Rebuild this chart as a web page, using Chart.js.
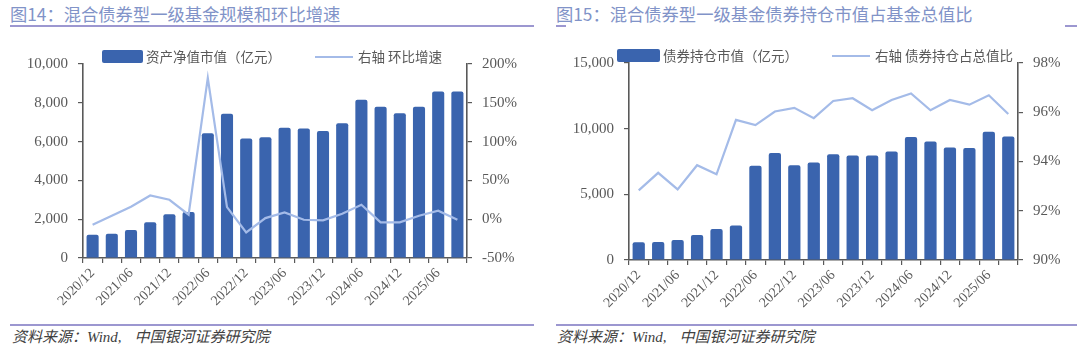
<!DOCTYPE html>
<html>
<head>
<meta charset="utf-8">
<script src="https://cdn.jsdelivr.net/npm/chart.js@4/dist/chart.umd.min.js"></script>
<style>
  html, body { margin: 0; padding: 0; background: #ffffff; }
  #wrap { position: relative; width: 1080px; height: 351px; overflow: hidden; background: #fff; }
  .abs { position: absolute; }
  .title { font-family: "Noto Sans CJK SC", "Noto Sans", sans-serif; font-size: 17.3px; line-height: 22px; color: #8193C8; white-space: nowrap; }
  .rule { background: #9C97D0; }
  .legtxt { font-family: "Noto Sans CJK SC", "Noto Sans", sans-serif; font-size: 13.5px; line-height: 18px; color: #595959; white-space: nowrap; }
  .src { font-family: "Liberation Serif", "Noto Sans CJK SC", serif; font-style: italic; font-size: 15px; line-height: 18px; color: #404040; white-space: nowrap; }
  .src .cjk { font-family: "Noto Sans CJK SC", sans-serif; }
  .src .gap { margin-left: 13px; }
</style>
</head>
<body>
<div id="wrap">
  <div class="abs title" style="left:10px; top:3px;">图14：混合债券型一级基金规模和环比增速</div>
  <div class="abs rule" style="left:10px; top:25px; width:524px; height:2px;"></div>
  <div class="abs title" style="left:556px; top:3px;">图15：混合债券型一级基金债券持仓市值占基金总值比</div>
  <div class="abs rule" style="left:556px; top:25px; width:10px; height:2px;"></div>
  <div class="abs rule" style="left:1065px; top:25px; width:12px; height:2px;"></div>

  <div class="abs" style="left:0; top:40px; width:540px; height:282px;"><canvas id="c1" width="540" height="282"></canvas></div>
  <div class="abs" style="left:540px; top:40px; width:540px; height:282px;"><canvas id="c2" width="540" height="282"></canvas></div>

  <!-- legends -->
  <div class="abs" style="left:102px; top:50px; width:41px; height:13px; background:#3A64AE; border-radius:2px;"></div>
  <div class="abs legtxt" style="left:146px; top:47px;">资产净值市值（亿元）</div>
  <div class="abs" style="left:315px; top:56px; width:38px; height:2px; background:#A4BBE8;"></div>
  <div class="abs legtxt" style="left:358px; top:47px;">右轴 环比增速</div>

  <div class="abs" style="left:617px; top:49px; width:43px; height:13px; background:#3A64AE; border-radius:2px;"></div>
  <div class="abs legtxt" style="left:663px; top:46px;">债券持仓市值（亿元）</div>
  <div class="abs" style="left:832px; top:55px; width:38px; height:2px; background:#A4BBE8;"></div>
  <div class="abs legtxt" style="left:875px; top:46px;">右轴 债券持仓占总值比</div>

  <div class="abs rule" style="left:10px; top:324px; width:524px; height:2px;"></div>
  <div class="abs rule" style="left:556px; top:324px; width:521px; height:2px;"></div>
  <div class="abs src" style="left:12px; top:327px;"><span class="cjk">资料来源：</span>Wind,<span class="cjk gap">中国银河证券研究院</span></div>
  <div class="abs src" style="left:557px; top:327px;"><span class="cjk">资料来源：</span>Wind,<span class="cjk gap">中国银河证券研究院</span></div>
</div>

<script>
// ---------- DATA ----------
const categories = ['2020/12','2021/03','2021/06','2021/09','2021/12','2022/03','2022/06','2022/09','2022/12','2023/03',
                    '2023/06','2023/09','2023/12','2024/03','2024/06','2024/09','2024/12','2025/03','2025/06','2025/09'];

// Chart 14: net asset value (亿元) and QoQ growth (%)
const netAssetValue = [1200,1250,1440,1840,2260,2370,6430,7430,6160,6230,6720,6670,6540,6950,8160,7790,7460,7790,8580,8580];
const qoqGrowth     = [-7,4.5,16,30.6,25,5.8,182,15.6,-17,1.4,8.7,-0.7,-1.5,7,18.7,-4,-4,4.5,11,-0.7];

// Chart 15: bond holdings market value (亿元) and share of total value (%)
const bondHoldings  = [1350,1370,1530,1910,2360,2620,7170,8140,7220,7420,8060,7960,7960,8260,9360,9030,8570,8520,9760,9410];
const bondShare     = [92.83,93.54,92.87,93.85,93.48,95.69,95.48,96.03,96.18,95.76,96.46,96.57,96.08,96.5,96.76,96.08,96.5,96.31,96.69,95.93];

const leftTicks1  = [0,2000,4000,6000,8000,10000];
const rightTicks1 = [-50,0,50,100,150,200];
const leftTicks2  = [0,5000,10000,15000];
const rightTicks2 = [90,92,94,96,98];

const seriesLabels1 = ['资产净值市值（亿元）','右轴 环比增速'];
const seriesLabels2 = ['债券持仓市值（亿元）','右轴 债券持仓占总值比'];

// ---------- STYLE ----------
const BAR = '#3A64AE';
const LINE = '#A4BBE8';
const AX = '#595959';
const TICKFONT = { family: 'Liberation Serif', size: 15 };
const XFONT = { family: 'Liberation Serif', size: 14 };

function fmt(n) { return String(n).replace(/\B(?=(\d{3})+(?!\d))/g, ','); }

function makeChart(id, bars, line, labels, lt, rt, geom) {
  return new Chart(document.getElementById(id), {
    data: {
      labels: categories,
      datasets: [
        { type: 'line', label: labels[1], data: line, yAxisID: 'y1', borderColor: LINE, borderWidth: 2.2,
          pointRadius: 0, tension: 0, order: 0 },
        { type: 'bar', label: labels[0], data: bars, yAxisID: 'y', backgroundColor: BAR,
          barPercentage: 0.63, categoryPercentage: 1.0, borderRadius: 2, order: 1 }
      ]
    },
    options: {
      responsive: false, animation: false, devicePixelRatio: 1,
      layout: { padding: { top: geom.top, left: 0, right: 0, bottom: 0 } },
      plugins: { legend: { display: false }, tooltip: { enabled: false } },
      scales: {
        x: {
          offset: true,
          grid: { display: true, drawOnChartArea: false, offset: true, tickLength: 5, color: AX, lineWidth: 1.2 },
          border: { display: true, color: AX, width: 1.6 },
          ticks: { autoSkip: false, maxRotation: 45, minRotation: 45, color: AX, font: XFONT, padding: 2,
                   callback: (v, i) => (i % 2 === 0 ? categories[i] : '') },
          afterFit: s => { s.height = geom.xh; }
        },
        y: {
          position: 'left', min: lt[0], max: lt[lt.length - 1],
          afterBuildTicks: s => { s.ticks = lt.map(v => ({ value: v })); },
          grid: { display: true, drawOnChartArea: false, tickLength: 5, color: AX, lineWidth: 1.2 },
          border: { display: true, color: AX, width: 1.6 },
          ticks: { color: AX, font: TICKFONT, padding: 10, callback: v => fmt(v) },
          afterFit: s => { s.width = geom.lw; }
        },
        y1: {
          position: 'right', min: rt[0], max: rt[rt.length - 1],
          afterBuildTicks: s => { s.ticks = rt.map(v => ({ value: v })); },
          grid: { display: true, drawOnChartArea: false, tickLength: 5, color: AX, lineWidth: 1.2 },
          border: { display: true, color: AX, width: 1.6 },
          ticks: { color: AX, font: TICKFONT, padding: 10, callback: v => v + '%' },
          afterFit: s => { s.width = geom.rw; }
        }
      }
    }
  });
}

makeChart('c1', netAssetValue, qoqGrowth, seriesLabels1, leftTicks1, rightTicks1, { top: 24, xh: 64, lw: 83, rw: 73 });
makeChart('c2', bondHoldings, bondShare, seriesLabels2, leftTicks2, rightTicks2, { top: 23, xh: 62, lw: 89, rw: 62 });
</script>
</body>
</html>
